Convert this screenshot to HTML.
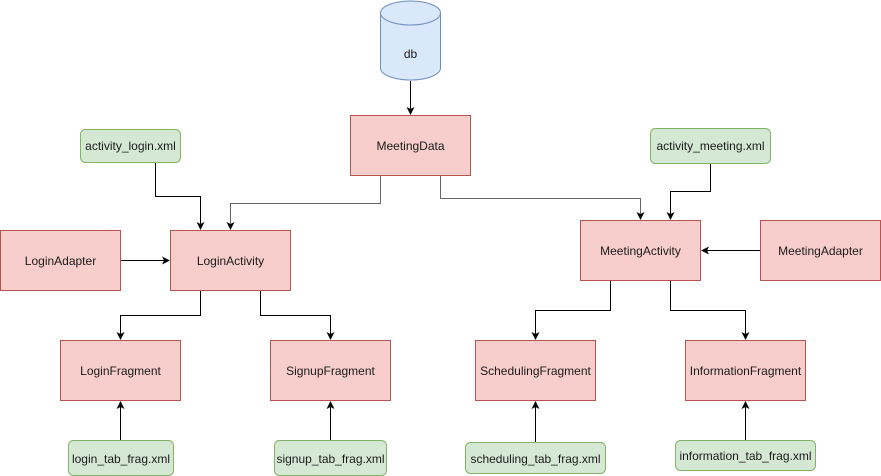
<!DOCTYPE html>
<html><head><meta charset="utf-8"><style>
html,body{margin:0;padding:0;background:#fff;width:881px;height:476px;overflow:hidden}
text{font-family:"Liberation Sans",Arial,sans-serif;font-size:12px;fill:#1a1a1a}
</style></head><body>
<svg width="881" height="476" viewBox="0 0 881 476" xmlns="http://www.w3.org/2000/svg">
<defs>
<marker id="a" markerWidth="8" markerHeight="8" refX="7" refY="4" orient="auto" markerUnits="userSpaceOnUse">
<path d="M0,0 L8,4 L0,8 L2,4 Z" fill="#000"/></marker>
</defs>
<g fill="#f8cecc" stroke="#b85450" stroke-width="1">
<rect x="350.5" y="115.5" width="120" height="60"/>
<rect x="0.5" y="230.5" width="120" height="60"/>
<rect x="170.5" y="230.5" width="120" height="60"/>
<rect x="60.5" y="340.5" width="120" height="60"/>
<rect x="270.5" y="340.5" width="120" height="60"/>
<rect x="580.5" y="220.5" width="120" height="60"/>
<rect x="760.5" y="220.5" width="120" height="60"/>
<rect x="475.5" y="340.5" width="120" height="60"/>
<rect x="685.5" y="340.5" width="120" height="60"/>
</g>
<g fill="#d5e8d4" stroke="#82b366" stroke-width="1">
<rect x="80.5" y="129.5" width="100" height="33" rx="5"/>
<rect x="650.5" y="128.5" width="120" height="35" rx="5"/>
<rect x="68.5" y="440.5" width="105" height="35" rx="5"/>
<rect x="274.5" y="440.5" width="112" height="35" rx="5"/>
<rect x="465.5" y="442.5" width="140" height="31" rx="5"/>
<rect x="675.5" y="440.5" width="140" height="30" rx="5"/>
</g>
<g fill="#dae8fc" stroke="#6c8ebf">
<path d="M380.5,13 L380.5,68 A30,12 0 0 0 440.5,68 L440.5,13"/>
<ellipse cx="410.5" cy="13" rx="30" ry="12"/>
</g>
<g fill="none" stroke="#000" stroke-width="1" marker-end="url(#a)">
<path d="M410.5,81 V114"/>
<path d="M155.5,163 V196.5 H200.5 V229"/>
<path d="M380.5,176 V203.5 H230.5 V229" stroke="#666"/>
<path d="M121,260.5 H169"/>
<path d="M200.5,291 V315.5 H120.5 V339"/>
<path d="M260.5,291 V315.5 H330.5 V339"/>
<path d="M120.5,440 V402"/>
<path d="M330.5,440 V402"/>
<path d="M440.5,176 V198.5 H640.5 V219" stroke="#666"/>
<path d="M710.5,164 V191.5 H670.5 V219"/>
<path d="M760,250.5 H702"/>
<path d="M610.5,281 V310.5 H535.5 V339"/>
<path d="M670.5,281 V310.5 H745.5 V339"/>
<path d="M535.5,442 V402"/>
<path d="M745.5,440 V402"/>
</g>
<g text-anchor="middle">
<text x="410.5" y="58">db</text>
<text x="410.5" y="150">MeetingData</text>
<text x="60.5" y="265">LoginAdapter</text>
<text x="230.5" y="265">LoginActivity</text>
<text x="120.5" y="375">LoginFragment</text>
<text x="330.5" y="375">SignupFragment</text>
<text x="640.5" y="255">MeetingActivity</text>
<text x="820.5" y="255">MeetingAdapter</text>
<text x="535.5" y="375">SchedulingFragment</text>
<text x="745.5" y="375">InformationFragment</text>
<text x="130.5" y="150">activity_login.xml</text>
<text x="710.5" y="150">activity_meeting.xml</text>
<text x="121" y="463">login_tab_frag.xml</text>
<text x="330.5" y="463">signup_tab_frag.xml</text>
<text x="535.5" y="463">scheduling_tab_frag.xml</text>
<text x="745.5" y="460">information_tab_frag.xml</text>
</g>
</svg>
</body></html>
